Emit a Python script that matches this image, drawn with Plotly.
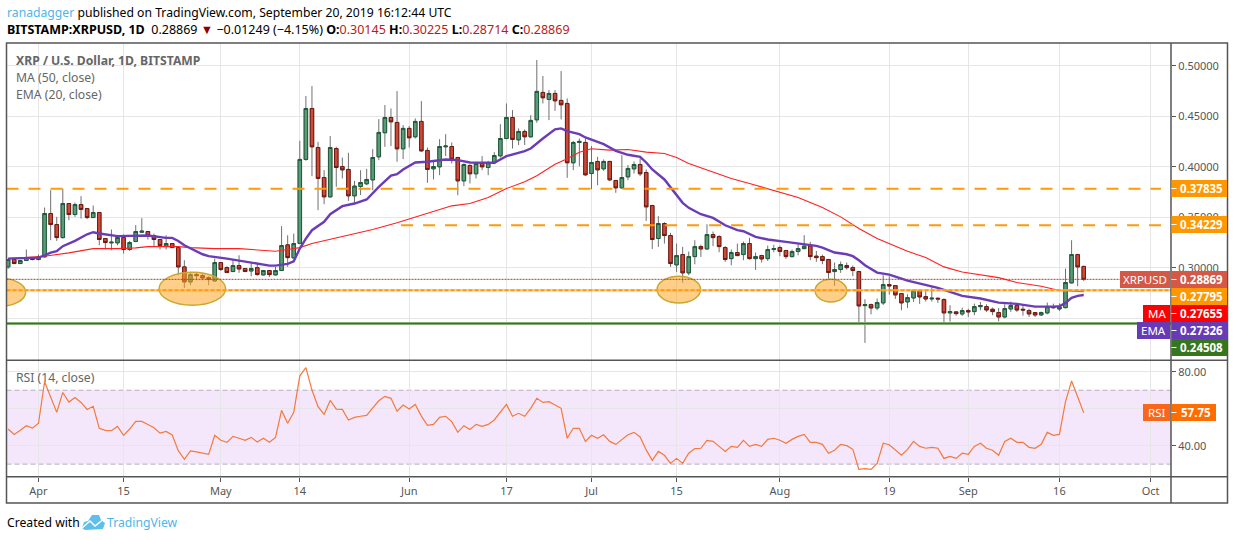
import pandas as pd
import plotly.graph_objects as go

# daily candles, 27 Mar 2019 -> 20 Sep 2019
dates = pd.date_range("2019-03-27", "2019-09-20", freq="D")

opens = [
    0.3010, 0.3083, 0.3043, 0.3073, 0.3099,
    0.3083, 0.3109, 0.3538, 0.3429, 0.3300, 0.3637, 0.3528, 0.3627, 0.3587, 0.3498, 0.3548, 0.3290, 0.3248, 0.3248, 0.3300,
    0.3182, 0.3261, 0.3353, 0.3360, 0.3320, 0.3281, 0.3215, 0.3241, 0.3201, 0.3010, 0.2862, 0.2934, 0.2924, 0.2904, 0.2871,
    0.3053, 0.3003, 0.2964, 0.3023, 0.2994, 0.2970, 0.3003, 0.2931, 0.2974, 0.2931, 0.2974, 0.3228, 0.3099, 0.3242, 0.4073,
    0.4577, 0.4191, 0.3894, 0.3703, 0.4181, 0.4003, 0.3974, 0.3713, 0.3805, 0.3832, 0.3871, 0.4099, 0.4337, 0.4488, 0.4439, 0.4178,
    0.4380, 0.4297, 0.4449, 0.4162, 0.3980, 0.4000, 0.4198, 0.4201, 0.4092, 0.3861, 0.4013, 0.3931, 0.4033, 0.3993, 0.4040,
    0.4109, 0.4280, 0.4488, 0.4267, 0.4350, 0.4297, 0.4465, 0.4736, 0.4667, 0.4726, 0.4657, 0.4627, 0.4040, 0.4241, 0.4241,
    0.3934, 0.4053, 0.3980, 0.4053, 0.3865, 0.3792, 0.3901, 0.3980, 0.4023, 0.3944, 0.3617, 0.3291, 0.3439, 0.3320, 0.3030,
    0.3132, 0.2951, 0.3112, 0.3211, 0.3188, 0.3330, 0.3310, 0.3201, 0.3092, 0.3152, 0.3132, 0.3241, 0.3092, 0.3122, 0.3092, 0.3182,
    0.3201, 0.3172, 0.3112, 0.3162, 0.3191, 0.3218, 0.3116, 0.3112, 0.3083, 0.2964, 0.2984, 0.3023, 0.3003, 0.2964, 0.2627,
    0.2637, 0.2604, 0.2654, 0.2835, 0.2825, 0.2746, 0.2664, 0.2703, 0.2776, 0.2716, 0.2693, 0.2700, 0.2687, 0.2555, 0.2565, 0.2545,
    0.2578, 0.2568, 0.2617, 0.2617, 0.2591, 0.2558, 0.2515, 0.2594, 0.2627, 0.2591, 0.2578, 0.2558, 0.2535, 0.2555, 0.2617,
    0.2594, 0.2607, 0.2852, 0.3132, 0.30145,
]
highs = [
    0.3083, 0.3083, 0.3073, 0.3182, 0.3102,
    0.3132, 0.3597, 0.3769, 0.3505, 0.3785, 0.3640, 0.3647, 0.3710, 0.3590, 0.3617, 0.3552, 0.3295, 0.3380, 0.3323, 0.3330,
    0.3267, 0.3423, 0.3492, 0.3363, 0.3340, 0.3285, 0.3323, 0.3245, 0.3205, 0.3076, 0.2961, 0.2961, 0.2944, 0.2917, 0.3092,
    0.3058, 0.3017, 0.3083, 0.3125, 0.2998, 0.3050, 0.3043, 0.2980, 0.2980, 0.3010, 0.3413, 0.3323, 0.3340, 0.4257, 0.4700,
    0.4799, 0.4247, 0.3967, 0.4304, 0.4198, 0.4092, 0.4139, 0.3861, 0.3967, 0.3980, 0.4175, 0.4472, 0.4611, 0.4577, 0.4749, 0.4413,
    0.4403, 0.4479, 0.4650, 0.4191, 0.4066, 0.4274, 0.4323, 0.4241, 0.4099, 0.4033, 0.4026, 0.4040, 0.4106, 0.4059, 0.4145,
    0.4422, 0.4627, 0.4561, 0.4380, 0.4370, 0.4511, 0.5056, 0.4898, 0.4759, 0.4759, 0.4947, 0.4677, 0.4257, 0.4280, 0.4280,
    0.4205, 0.4099, 0.4073, 0.4060, 0.3870, 0.4116, 0.4017, 0.4053, 0.4082, 0.3974, 0.3625, 0.3512, 0.3452, 0.3347, 0.3241,
    0.3208, 0.3162, 0.3274, 0.3230, 0.3432, 0.3360, 0.3323, 0.3215, 0.3182, 0.3241, 0.3261, 0.3297, 0.3152, 0.3130, 0.3221, 0.3228,
    0.3221, 0.3178, 0.3182, 0.3241, 0.3324, 0.3258, 0.3168, 0.3132, 0.3090, 0.3053, 0.3063, 0.3053, 0.3023, 0.2970, 0.2690,
    0.2647, 0.2697, 0.2928, 0.2918, 0.2830, 0.2750, 0.2739, 0.2786, 0.2786, 0.2769, 0.2809, 0.2705, 0.2700, 0.2630, 0.2570, 0.2607,
    0.2597, 0.2647, 0.2663, 0.2640, 0.2607, 0.2604, 0.2640, 0.2667, 0.2647, 0.2640, 0.2597, 0.2565, 0.2568, 0.2657, 0.2647,
    0.2650, 0.2993, 0.3274, 0.3140, 0.30225,
]
lows = [
    0.2990, 0.3043, 0.3043, 0.3073, 0.3075,
    0.3075, 0.3103, 0.3274, 0.3267, 0.3290, 0.3472, 0.3505, 0.3488, 0.3482, 0.3495, 0.3224, 0.3182, 0.3175, 0.3224, 0.3142,
    0.3168, 0.3255, 0.3350, 0.3281, 0.3215, 0.3182, 0.3182, 0.3198, 0.2927, 0.2802, 0.2829, 0.2878, 0.2878, 0.2829, 0.2865,
    0.2970, 0.2950, 0.2960, 0.2951, 0.2960, 0.2918, 0.2924, 0.2925, 0.2911, 0.2925, 0.2970, 0.3010, 0.3095, 0.3235, 0.4060,
    0.3908, 0.3571, 0.3630, 0.3695, 0.3802, 0.3885, 0.3663, 0.3637, 0.3720, 0.3818, 0.3769, 0.4066, 0.4198, 0.4205, 0.4050, 0.4076,
    0.4191, 0.4280, 0.4148, 0.3842, 0.3875, 0.3917, 0.4106, 0.4033, 0.3719, 0.3809, 0.3835, 0.3885, 0.3967, 0.3917, 0.4026,
    0.4092, 0.4271, 0.4181, 0.4215, 0.4215, 0.4290, 0.4436, 0.4627, 0.4462, 0.4554, 0.4469, 0.3891, 0.3967, 0.4006, 0.3908,
    0.3779, 0.3818, 0.3960, 0.3858, 0.3743, 0.3785, 0.3868, 0.3934, 0.3908, 0.3465, 0.3188, 0.3208, 0.3241, 0.3010, 0.2960,
    0.2852, 0.2927, 0.3036, 0.3109, 0.3180, 0.3215, 0.3155, 0.3060, 0.3026, 0.3116, 0.3076, 0.3083, 0.2980, 0.3053, 0.3069, 0.3155,
    0.3116, 0.3089, 0.3102, 0.3125, 0.3185, 0.3076, 0.3060, 0.3036, 0.2894, 0.2822, 0.2951, 0.2984, 0.2918, 0.2436, 0.2258,
    0.2541, 0.2581, 0.2634, 0.2736, 0.2693, 0.2581, 0.2604, 0.2664, 0.2644, 0.2667, 0.2667, 0.2654, 0.2462, 0.2469, 0.2528, 0.2525,
    0.2515, 0.2532, 0.2581, 0.2565, 0.2532, 0.2472, 0.2502, 0.2565, 0.2565, 0.2528, 0.2515, 0.2515, 0.2525, 0.2541, 0.2597,
    0.2574, 0.2600, 0.2845, 0.2819, 0.28714,
]
closes = [
    0.3083, 0.3043, 0.3073, 0.3102, 0.3083,
    0.3109, 0.3538, 0.3429, 0.3300, 0.3637, 0.3528, 0.3627, 0.3578, 0.3498, 0.3548, 0.3281, 0.3251, 0.3254, 0.3300, 0.3182,
    0.3251, 0.3360, 0.3363, 0.3320, 0.3281, 0.3221, 0.3241, 0.3201, 0.3010, 0.2862, 0.2934, 0.2924, 0.2901, 0.2885, 0.3053,
    0.2984, 0.2954, 0.3023, 0.2990, 0.2964, 0.2994, 0.2934, 0.2974, 0.2934, 0.2974, 0.3221, 0.3102, 0.3241, 0.4073, 0.4577,
    0.4198, 0.3885, 0.3703, 0.4191, 0.3993, 0.3970, 0.3713, 0.3809, 0.3845, 0.3875, 0.4092, 0.4340, 0.4488, 0.4445, 0.4178, 0.4380,
    0.4287, 0.4449, 0.4158, 0.3974, 0.4003, 0.4201, 0.4205, 0.4076, 0.3861, 0.4023, 0.3931, 0.4033, 0.4000, 0.4040, 0.4112,
    0.4280, 0.4488, 0.4271, 0.4350, 0.4297, 0.4459, 0.4746, 0.4683, 0.4726, 0.4653, 0.4614, 0.4040, 0.4241, 0.4251, 0.3921,
    0.4043, 0.3970, 0.4053, 0.3871, 0.3792, 0.3894, 0.3984, 0.4023, 0.3931, 0.3604, 0.3281, 0.3439, 0.3320, 0.3043, 0.3122,
    0.2951, 0.3112, 0.3211, 0.3188, 0.3330, 0.3300, 0.3211, 0.3083, 0.3152, 0.3122, 0.3241, 0.3092, 0.3112, 0.3089, 0.3182, 0.3191,
    0.3162, 0.3112, 0.3162, 0.3191, 0.3215, 0.3112, 0.3102, 0.3073, 0.2954, 0.2984, 0.3033, 0.3003, 0.2974, 0.2624, 0.2637,
    0.2604, 0.2657, 0.2835, 0.2822, 0.2733, 0.2654, 0.2706, 0.2776, 0.2713, 0.2693, 0.2700, 0.2693, 0.2555, 0.2568, 0.2548, 0.2578,
    0.2565, 0.2617, 0.2627, 0.2584, 0.2568, 0.2515, 0.2597, 0.2627, 0.2584, 0.2584, 0.2545, 0.2535, 0.2558, 0.2617, 0.2607,
    0.2614, 0.2855, 0.3132, 0.3010, 0.28869,
]
rsi = [
    49.0, 46.1, 48.3, 50.8, 49.5,
    52.1, 74.6, 66.5, 58.0, 68.8, 63.6, 66.1, 63.4, 59.6, 61.3, 49.4, 48.3, 48.1, 50.4, 45.6,
    49.0, 53.1, 53.1, 51.5, 49.7, 46.8, 47.7, 45.8, 37.3, 32.6, 37.1, 36.6, 36.0, 35.3, 45.6,
    42.9, 41.8, 45.0, 44.0, 42.9, 44.5, 42.0, 44.0, 41.8, 44.5, 59.1, 52.1, 58.0, 77.8, 82.2,
    70.1, 61.1, 56.9, 64.5, 59.8, 59.6, 53.9, 55.3, 55.9, 56.4, 60.5, 64.3, 66.7, 65.6, 58.6, 62.0,
    59.8, 62.3, 56.0, 51.0, 51.5, 55.3, 55.9, 53.0, 47.2, 50.8, 48.8, 51.5, 50.4, 51.5, 53.9,
    58.2, 62.3, 55.9, 57.5, 55.9, 60.2, 65.6, 63.4, 63.8, 61.8, 60.2, 44.0, 49.4, 49.4, 42.3,
    45.6, 44.0, 45.9, 42.3, 40.7, 43.4, 45.9, 47.2, 44.7, 37.7, 32.1, 36.9, 34.8, 30.4, 33.1,
    30.4, 35.9, 38.4, 38.6, 42.9, 42.3, 39.6, 36.9, 39.6, 39.1, 42.9, 39.6, 40.7, 39.6, 43.4, 44.0,
    42.9, 41.3, 43.4, 45.0, 46.1, 41.8, 41.8, 40.7, 35.9, 37.5, 40.7, 40.0, 38.0, 27.2, 27.6,
    27.2, 30.4, 41.3, 40.5, 37.7, 34.8, 38.0, 42.3, 39.6, 38.6, 39.1, 38.6, 33.1, 34.2, 33.1, 35.9,
    35.3, 39.6, 41.3, 38.6, 37.5, 34.8, 42.3, 44.0, 41.8, 41.8, 39.1, 38.6, 40.7, 47.2, 45.6,
    46.1, 63.8, 75.0, 66.5, 57.75,
]

# MA 50 / EMA 20, read at the points where the line bends
ma_dates = ["2019-03-27", "2019-04-02", "2019-04-06", "2019-04-10", "2019-04-14", "2019-04-17", "2019-04-19", "2019-04-24",
            "2019-04-26", "2019-04-30", "2019-05-04", "2019-05-08", "2019-05-10", "2019-05-12", "2019-05-14", "2019-05-16",
            "2019-05-26", "2019-05-30", "2019-06-04", "2019-06-08", "2019-06-11", "2019-06-14", "2019-06-17", "2019-06-20",
            "2019-06-22", "2019-06-25", "2019-06-27", "2019-06-29", "2019-07-01", "2019-07-04", "2019-07-07", "2019-07-10",
            "2019-07-13", "2019-07-15", "2019-07-17", "2019-07-21", "2019-07-24", "2019-07-27", "2019-07-31", "2019-08-04",
            "2019-08-08", "2019-08-11", "2019-08-14", "2019-08-17", "2019-08-22", "2019-08-25", "2019-08-28", "2019-08-31",
            "2019-09-06", "2019-09-09", "2019-09-13", "2019-09-16", "2019-09-20"]
ma_vals = [0.3092, 0.3116, 0.3149, 0.3191, 0.3191, 0.3198, 0.3211, 0.3211,
           0.3201, 0.3191, 0.3191, 0.3172, 0.3165, 0.3182, 0.3201, 0.3241,
           0.3380, 0.3446, 0.3538, 0.3614, 0.3637, 0.3696, 0.3785, 0.3852,
           0.3911, 0.4026, 0.4079, 0.4145, 0.4178, 0.4165, 0.4172, 0.4145,
           0.4132, 0.4092, 0.4033, 0.3950, 0.3884, 0.3835, 0.3769, 0.3696,
           0.3597, 0.3505, 0.3390, 0.3290, 0.3165, 0.3102, 0.3010, 0.2960,
           0.2904, 0.2855, 0.2819, 0.2776, 0.27655]

ema_dates = ["2019-03-27", "2019-04-01", "2019-04-02", "2019-04-03", "2019-04-04", "2019-04-05", "2019-04-07", "2019-04-09",
             "2019-04-10", "2019-04-11", "2019-04-14", "2019-04-17", "2019-04-19", "2019-04-22", "2019-04-23", "2019-04-24",
             "2019-04-25", "2019-04-28", "2019-04-29", "2019-05-02", "2019-05-07", "2019-05-09", "2019-05-10", "2019-05-12",
             "2019-05-13", "2019-05-14", "2019-05-15", "2019-05-16", "2019-05-18", "2019-05-19", "2019-05-21", "2019-05-23",
             "2019-05-25", "2019-05-27", "2019-05-29", "2019-05-30", "2019-05-31", "2019-06-02", "2019-06-04", "2019-06-07",
             "2019-06-09", "2019-06-11", "2019-06-15", "2019-06-17", "2019-06-20", "2019-06-21", "2019-06-23", "2019-06-25",
             "2019-06-26", "2019-06-27", "2019-06-29", "2019-06-30", "2019-07-03", "2019-07-05", "2019-07-07", "2019-07-09",
             "2019-07-10", "2019-07-11", "2019-07-13", "2019-07-15", "2019-07-16", "2019-07-17", "2019-07-19", "2019-07-21",
             "2019-07-23", "2019-07-25", "2019-07-26", "2019-07-28", "2019-07-30", "2019-08-02", "2019-08-05", "2019-08-07",
             "2019-08-08", "2019-08-10", "2019-08-12", "2019-08-13", "2019-08-14", "2019-08-15", "2019-08-17", "2019-08-19",
             "2019-08-22", "2019-08-25", "2019-08-27", "2019-08-29", "2019-08-31", "2019-09-03", "2019-09-06", "2019-09-09",
             "2019-09-12", "2019-09-15", "2019-09-16", "2019-09-17", "2019-09-18", "2019-09-19", "2019-09-20"]
ema_vals = [0.3092, 0.3102, 0.3125, 0.3152, 0.3165, 0.3215, 0.3267, 0.3333,
            0.3353, 0.3340, 0.3314, 0.3314, 0.3320, 0.3297, 0.3297, 0.3267,
            0.3224, 0.3135, 0.3116, 0.3092, 0.3043, 0.3023, 0.3023, 0.3040,
            0.3066, 0.3192, 0.3290, 0.3373, 0.3456, 0.3531, 0.3611, 0.3637,
            0.3677, 0.3802, 0.3914, 0.3927, 0.3974, 0.4043, 0.4050, 0.4073,
            0.4066, 0.4043, 0.4040, 0.4106, 0.4155, 0.4181, 0.4280, 0.4370,
            0.4380, 0.4353, 0.4323, 0.4290, 0.4224, 0.4158, 0.4119, 0.4099,
            0.4043, 0.3974, 0.3875, 0.3720, 0.3644, 0.3594, 0.3531, 0.3495,
            0.3422, 0.3373, 0.3363, 0.3307, 0.3281, 0.3258, 0.3234, 0.3218,
            0.3201, 0.3152, 0.3135, 0.3116, 0.3075, 0.3026, 0.2954, 0.2934,
            0.2875, 0.2835, 0.2802, 0.2763, 0.2723, 0.2697, 0.2657, 0.2644,
            0.2617, 0.2617, 0.2621, 0.2654, 0.2703, 0.2723, 0.27326]

# axis ticks (0.25 keeps its grid line, its label sits behind the MA/EMA boxes in the original)
date_ticks = ["2019-04-01", "2019-04-15", "2019-05-01", "2019-05-14", "2019-06-01", "2019-06-17", "2019-07-01",
              "2019-07-15", "2019-08-01", "2019-08-19", "2019-09-01", "2019-09-16", "2019-10-01"]
date_labels = ["Apr", "15", "May", "14", "Jun", "17", "Jul", "15", "Aug", "19", "Sep", "16", "Oct"]
price_ticks = [0.50, 0.45, 0.40, 0.35, 0.30, 0.25]
price_labels = ["0.50000", "0.45000", "0.40000", "0.35000", "0.30000", ""]
rsi_ticks = [80, 60, 40]
rsi_labels = ["80.00", "", "40.00"]

# horizontal levels
resist_top = 0.37835
resist_mid = 0.34229
support_dot = 0.27795
support_low = 0.24508
last_close = 0.28869

# ellipses marking the support touches: (date0, date1, price0, price1)
ellipses = [
    ("2019-03-21 13:00", "2019-03-29 21:00", 0.2621, 0.2898),
    ("2019-04-20 20:00", "2019-05-01 19:00", 0.2631, 0.2957),
    ("2019-07-11 19:00", "2019-07-18 23:00", 0.2653, 0.2918),
    ("2019-08-06 19:00", "2019-08-12 00:00", 0.2663, 0.2888),
]

W, H = 1234, 540
FONT = "Noto Sans"
GRID = "#e6e6e6"
FRAME = "#555555"
X_RANGE = ["2019-03-26 17:36", "2019-10-04 08:40"]


def px(x):
    return x / W


def py(y):
    return 1 - y / H


fig = go.Figure()

# lines go under the candles
fig.add_trace(go.Scatter(x=ma_dates, y=ma_vals, mode="lines", line=dict(color="#ff2020", width=1.1)))
fig.add_trace(go.Scatter(x=ema_dates, y=ema_vals, mode="lines", line=dict(color="#6a3cb8", width=2.4)))

# wicks: thin grey candle, bodies drawn again on top with dark outline
wick = dict(line=dict(color="#707070", width=1), fillcolor="#707070")
fig.add_trace(go.Candlestick(x=dates, open=opens, high=highs, low=lows, close=closes,
                             increasing=wick, decreasing=wick, whiskerwidth=0))
body_hi = [max(o, c) for o, c in zip(opens, closes)]
body_lo = [min(o, c) for o, c in zip(opens, closes)]
fig.add_trace(go.Candlestick(x=dates, open=opens, high=body_hi, low=body_lo, close=closes,
                             increasing=dict(line=dict(color="#1f5a3c", width=1), fillcolor="#5b9c78"),
                             decreasing=dict(line=dict(color="#6e1a12", width=1), fillcolor="#cf4a36")))

fig.add_trace(go.Scatter(x=dates, y=rsi, mode="lines", xaxis="x2", yaxis="y2",
                         line=dict(color="#f5793b", width=1.2)))

shapes = []

# RSI band
shapes.append(dict(type="rect", xref="x2", yref="y2", x0=X_RANGE[0], x1=X_RANGE[1], y0=30, y1=70,
                   fillcolor="rgba(156,39,216,0.11)", line_width=0, layer="below"))
for lvl in [30, 70]:
    shapes.append(dict(type="line", xref="x2", yref="y2", x0=X_RANGE[0], x1=X_RANGE[1], y0=lvl, y1=lvl,
                       line=dict(color="#b8acbc", width=1, dash="5px,3px"), layer="below"))

# ellipses
for d0, d1, p0, p1 in ellipses:
    shapes.append(dict(type="circle", xref="x", yref="y", x0=d0, x1=d1, y0=p0, y1=p1,
                       fillcolor="rgba(255,165,40,0.55)", line=dict(color="#c9a830", width=1.5)))

# price line and levels
shapes.append(dict(type="line", xref="x", yref="y", x0=X_RANGE[0], x1="2019-09-26", y0=last_close, y1=last_close,
                   line=dict(color="#c0392b", width=1, dash="2px,1px")))
shapes.append(dict(type="line", xref="x", yref="y", x0=X_RANGE[0], x1="2019-10-02 17:00", y0=resist_top, y1=resist_top,
                   line=dict(color="#ff9a0a", width=2, dash="12px,10px")))
shapes.append(dict(type="line", xref="x", yref="y", x0="2019-05-30 16:00", x1="2019-10-02 17:00", y0=resist_mid, y1=resist_mid,
                   line=dict(color="#ff9a0a", width=2, dash="12px,10px")))
shapes.append(dict(type="line", xref="x", yref="y", x0=X_RANGE[0], x1=X_RANGE[1], y0=support_dot, y1=support_dot,
                   line=dict(color="rgba(255,190,90,0.7)", width=2.5)))
shapes.append(dict(type="line", xref="x", yref="y", x0=X_RANGE[0], x1=X_RANGE[1], y0=support_dot, y1=support_dot,
                   line=dict(color="#ff9a0a", width=2, dash="4px,2px")))
shapes.append(dict(type="line", xref="x", yref="y", x0=X_RANGE[0], x1=X_RANGE[1], y0=support_low, y1=support_low,
                   line=dict(color="#9dbf93", width=3)))
shapes.append(dict(type="line", xref="x", yref="y", x0=X_RANGE[0], x1=X_RANGE[1], y0=support_low, y1=support_low,
                   line=dict(color="#38761d", width=1.5)))

# frame around panes
frame = dict(color=FRAME, width=1.5)
shapes.append(dict(type="rect", xref="paper", yref="paper", x0=px(6.5), x1=px(1227.5), y0=py(503), y1=py(43), line=frame))
shapes.append(dict(type="line", xref="paper", yref="paper", x0=px(6.5), x1=px(1227.5), y0=py(360.3), y1=py(360.3), line=frame))
shapes.append(dict(type="line", xref="paper", yref="paper", x0=px(6.5), x1=px(1227.5), y0=py(476.7), y1=py(476.7), line=frame))
shapes.append(dict(type="line", xref="paper", yref="paper", x0=px(1171), x1=px(1171), y0=py(503), y1=py(43), line=frame))

annotations = []


def add_text(x, y, text, size=12.2, color="#000000", anchor="left"):
    annotations.append(dict(xref="paper", yref="paper", x=px(x), y=py(y), text=text, showarrow=False,
                            xanchor=anchor, yanchor="middle", borderpad=0,
                            font=dict(family=FONT, size=size, color=color)))


def add_box(x0, x1, y0, y1, color, text, size=11.5, bold=True, tick=False):
    shapes.append(dict(type="rect", xref="paper", yref="paper", x0=px(x0), x1=px(x1), y0=py(y1), y1=py(y0),
                       fillcolor=color, line_width=0))
    if tick:
        mid = (y0 + y1) / 2
        shapes.append(dict(type="line", xref="paper", yref="paper", x0=px(x0), x1=px(x0 + 5), y0=py(mid), y1=py(mid),
                           line=dict(color="#ffffff", width=1)))
    label = f"<b>{text}</b>" if bold else text
    add_text((x0 + x1) / 2 + (2 if tick else 0), (y0 + y1) / 2, label, size=size, color="#ffffff", anchor="center")


# price scale labels
add_box(1171.5, 1227, 180, 197, "#ff9800", "0.37835", tick=True)
add_box(1171.5, 1227, 216, 233, "#ff9800", "0.34229", tick=True)
add_box(1120, 1170, 271, 288, "#d55745", "XRPUSD", bold=False)
add_box(1171.5, 1227, 271, 288, "#d55745", "0.28869", tick=True)
add_box(1171.5, 1227, 288, 305, "#ff9800", "0.27795", tick=True)
add_box(1143, 1170, 305, 322, "#ff0000", "MA", bold=False)
add_box(1171.5, 1227, 305, 322, "#ff0000", "0.27655", tick=True)
add_box(1137, 1170, 322, 339, "#673ab7", "EMA", bold=False)
add_box(1171.5, 1227, 322, 339, "#673ab7", "0.27326", tick=True)
add_box(1171.5, 1227, 339, 356, "#38761d", "0.24508", tick=True)
add_box(1143, 1170, 404, 421, "#f9661c", "RSI", bold=False)
add_box(1171.5, 1216, 404, 421, "#ff6d00", "57.75", tick=True)

# header
red = "#b71c1c"
add_text(6, 12.5, '<span style="color:#4db6e8">ranadagger</span> published on TradingView.com, September 20, 2019 16:12:44 UTC')
add_text(6, 29.5, f'<b>BITSTAMP:XRPUSD, 1D</b>  0.28869 <span style="color:#8b0000">▼</span> −0.01249 (−4.15%) '
                  f'<b>O:</b><span style="color:{red}">0.30145</span> <b>H:</b><span style="color:{red}">0.30225</span> '
                  f'<b>L:</b><span style="color:{red}">0.28714</span> <b>C:</b><span style="color:{red}">0.28869</span>',
         size=12.5)

# pane titles
add_text(15, 60.5, "<b>XRP / U.S. Dollar, 1D, BITSTAMP</b>", color="#666666")
add_text(15, 77.5, "MA (50, close)", color="#666666")
add_text(15, 94.5, "EMA (20, close)", color="#666666")
add_text(15, 377.5, "RSI (14, close)", color="#666666")

# footer + logo
add_text(6, 522, "Created with")
add_text(106, 522, "TradingView", color="#4db6e8")
shapes.append(dict(type="path", xref="paper", yref="paper", fillcolor="#5cc0ea", line_width=0,
                   path=f"M {px(82)} {py(528)} L {px(84)} {py(522)} L {px(88)} {py(521)} L {px(92)} {py(515)} "
                        f"L {px(99)} {py(515)} L {px(101)} {py(520)} L {px(105)} {py(523)} L {px(103)} {py(529)} "
                        f"L {px(85)} {py(530)} Z"))
shapes.append(dict(type="path", xref="paper", yref="paper", line=dict(color="#ffffff", width=1.5),
                   path=f"M {px(82)} {py(528)} L {px(90)} {py(521)} L {px(95)} {py(526)} L {px(105)} {py(518)}"))

tick_font = dict(family=FONT, size=11, color="#555555")

fig.update_layout(
    width=W,
    height=H,
    margin=dict(l=0, r=0, t=0, b=0),
    paper_bgcolor="white",
    plot_bgcolor="white",
    showlegend=False,
    boxgap=0.18,
    shapes=shapes,
    annotations=annotations,
    hovermode=False,
    xaxis=dict(type="date", domain=[px(6.5), px(1171)], range=X_RANGE, anchor="y",
               tickvals=date_ticks, showticklabels=False, ticks="",
               showgrid=True, gridcolor=GRID, gridwidth=1, zeroline=False, rangeslider=dict(visible=False)),
    yaxis=dict(domain=[py(360.3), py(43)], range=[0.20861, 0.52248], anchor="x", side="right",
               tickvals=price_ticks, ticktext=price_labels, ticks="outside", ticklen=4, tickcolor=FRAME,
               tickfont=tick_font, showgrid=True, gridcolor=GRID, gridwidth=1, zeroline=False),
    xaxis2=dict(type="date", domain=[px(6.5), px(1171)], range=X_RANGE, anchor="y2",
                tickvals=date_ticks, ticktext=date_labels, ticks="outside", ticklen=4, tickcolor=FRAME,
                tickfont=tick_font, showgrid=True, gridcolor=GRID, gridwidth=1, zeroline=False),
    yaxis2=dict(domain=[py(476.7), py(360.3)], range=[23.2, 86.2], anchor="x2", side="right",
                tickvals=rsi_ticks, ticktext=rsi_labels, ticks="outside", ticklen=4, tickcolor=FRAME,
                tickfont=tick_font, showgrid=True, gridcolor=GRID, gridwidth=1, zeroline=False),
)

fig.write_html("out.html", config=dict(displayModeBar=False), post_script="document.body.style.margin='0';")
